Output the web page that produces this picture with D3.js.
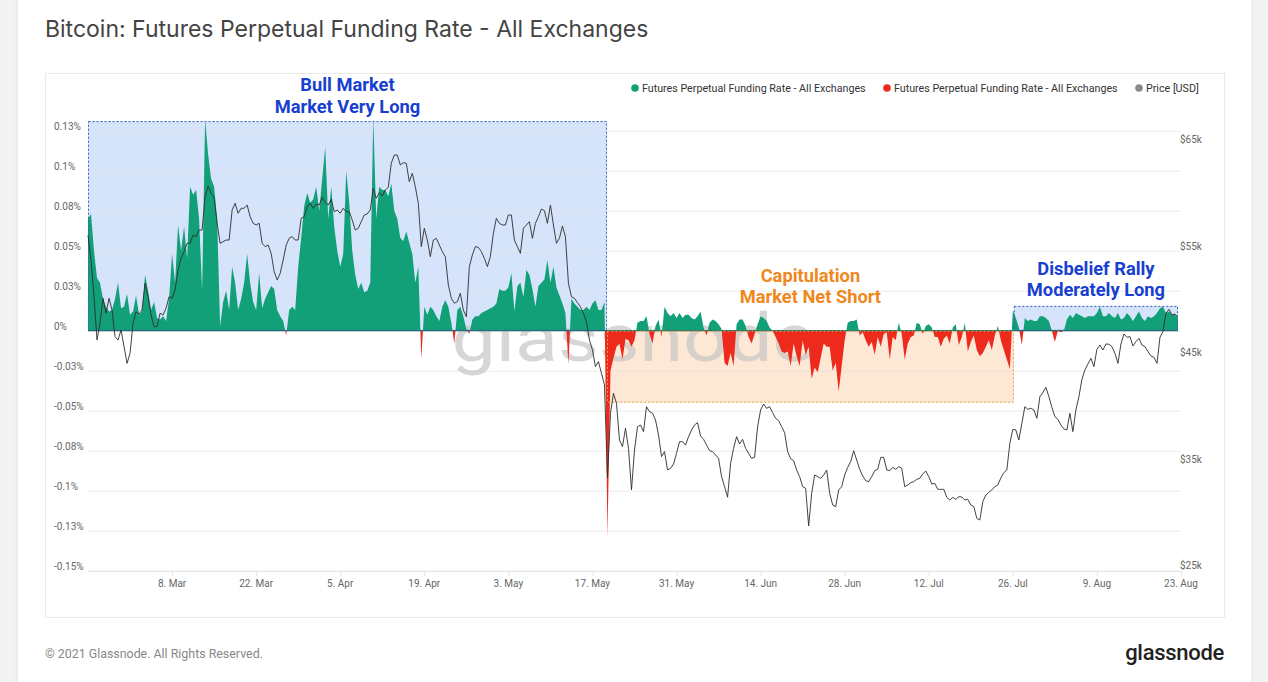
<!DOCTYPE html>
<html>
<head>
<meta charset="utf-8">
<script src="https://cdn.jsdelivr.net/npm/d3@7"></script>
<style>
  html, body { margin: 0; padding: 0; background: #f3f3f3; }
  svg { display: block; font-family: Roboto, "Open Sans", sans-serif; }
</style>
</head>
<body>
<svg id="chart"></svg>
<script>
// Funding rate in %, one value every 12h starting 22 Feb 2021 (one week per row)
const fundingRate = [
  0.07, 0.073, 0.05, 0.033, 0.03, 0.02, 0.015, 0.012, 0.013, 0.02, 0.03, 0.014, 0.015, 0.023,
  0.01, 0.012, 0.022, 0.01, 0.012, 0.035, 0.025, 0.013, 0.018, 0.008, 0.007, 0.009, 0.006, 0.02,
  0.048, 0.03, 0.066, 0.05, 0.065, 0.045, 0.09, 0.085, 0.088, 0.07, 0.025, 0.132, 0.11, 0.095,
  0.09, 0.07, 0.003, 0.018, 0.025, 0.013, 0.04, 0.03, 0.013, 0.02, 0.03, 0.048, 0.03, 0.018,
  0.013, 0.036, 0.014, 0.02, 0.024, 0.028, 0.026, 0.013, 0.009, 0.006, -0.003, 0.013, 0.015, 0.013,
  0.04, 0.058, 0.078, 0.086, 0.08, 0.082, 0.09, 0.075, 0.095, 0.115, 0.07, 0.09, 0.065, 0.05,
  0.04, 0.048, 0.1, 0.08, 0.05, 0.035, 0.026, 0.03, 0.024, 0.025, 0.03, 0.133, 0.07, 0.09,
  0.088, 0.088, 0.084, 0.092, 0.075, 0.07, 0.058, 0.056, 0.062, 0.055, 0.048, 0.03, 0.04, -0.018,
  0.015, 0.01, 0.015, 0.013, 0.009, 0.006, 0.015, 0.019, 0.015, 0.005, -0.008, 0.013, 0.015, 0.009,
  0.001, -0.002, 0.007, 0.009, 0.009, 0.011, 0.012, 0.013, 0.014, 0.015, 0.017, 0.026, 0.025, 0.025,
  0.027, 0.036, 0.012, 0.028, 0.03, 0.021, 0.038, 0.035, 0.026, 0.015, 0.028, 0.03, 0.032, 0.044,
  0.03, 0.04, 0.027, 0.022, 0.017, 0.011, -0.021, 0.02, 0.017, 0.015, 0.013, 0.013, 0.015, 0.013,
  0.017, 0.019, 0.013, 0.013, 0.018, -0.129, -0.025, -0.017, -0.01, -0.008, -0.018, -0.005, -0.006, -0.01,
  -0.006, 0.005, 0.006, 0.006, 0.009, -0.002, -0.008, 0.003, 0.007, -0.004, 0.015, 0.011, 0.009, 0.011,
  0.008, 0.011, 0.008, 0.01, 0.01, 0.008, 0.007, 0.009, 0.012, 0.002, -0.003, 0.005, 0.007, 0.006,
  0.004, 0.001, -0.02, -0.022, -0.014, -0.022, 0.004, 0.007, 0.007, 0.003, -0.004, -0.008, -0.002, 0.004,
  0.009, 0.008, 0.006, 0.002, 0.0, -0.004, -0.008, -0.013, -0.014, -0.013, -0.022, -0.008, -0.016, -0.022,
  -0.006, -0.015, -0.01, -0.03, -0.023, -0.026, -0.017, -0.008, -0.01, -0.01, -0.025, -0.02, -0.038, -0.022,
  -0.006, 0.005, 0.006, 0.006, 0.007, -0.003, -0.001, -0.006, -0.01, -0.007, -0.015, -0.004, -0.01, -0.002,
  -0.001, -0.018, -0.004, -0.006, 0.005, -0.002, -0.018, -0.008, -0.004, -0.003, 0.005, 0.004, -0.002, 0.003,
  0.004, 0.002, -0.004, -0.004, -0.01, -0.005, -0.003, -0.008, 0.002, 0.004, -0.009, -0.004, 0.005, -0.013,
  -0.007, -0.003, -0.012, -0.016, -0.014, -0.01, -0.006, -0.012, -0.003, 0.003, -0.006, -0.012, -0.018, -0.024,
  0.013, 0.008, 0.002, -0.009, 0.008, 0.006, 0.007, 0.006, 0.006, 0.009, 0.009, 0.008, 0.006, 0.0,
  -0.007, 0.0, -0.001, 0.0, 0.007, 0.01, 0.008, 0.011, 0.01, 0.009, 0.008, 0.009, 0.009, 0.009,
  0.011, 0.015, 0.009, 0.009, 0.011, 0.009, 0.008, 0.011, 0.007, 0.008, 0.011, 0.009, 0.006, 0.009,
  0.012, 0.008, 0.006, 0.009, 0.008, 0.009, 0.011, 0.014, 0.015, 0.011, 0.012, 0.01, 0.01, 0.008
];

// BTC price in USD, same 12h sampling
const price = [
  56500, 54170, 50730, 46660, 48230, 50580, 49170, 50580, 49480, 46980, 46660, 47600, 46040, 44470,
  45410, 48230, 49320, 49100, 49480, 51980, 50730, 49010, 47920, 47920, 49170, 49010, 49640, 50730,
  50580, 51360, 53240, 54330, 54960, 55740, 55740, 56520, 56370, 56990, 56990, 60120, 61120, 60430,
  60060, 57620, 55740, 55900, 56050, 56050, 58870, 59500, 58560, 59030, 59030, 59340, 58240, 57620,
  57460, 57620, 55740, 55430, 55580, 54800, 53080, 52300, 52920, 54170, 55580, 56210, 56370, 56050,
  56050, 58090, 58240, 59180, 59500, 59030, 59430, 59340, 60060, 59560, 59340, 59870, 58710, 58870,
  58560, 59030, 58710, 58710, 57930, 56990, 57150, 57770, 58400, 58500, 58870, 60900, 59970, 60500,
  60190, 60750, 61000, 63250, 64030, 64030, 63100, 63310, 63250, 61530, 62310, 61060, 59500, 55430,
  57150, 56050, 54490, 56050, 56210, 55580, 54960, 54490, 51830, 50580, 50110, 50260, 51050, 49480,
  48850, 53550, 54650, 55430, 55360, 54960, 54330, 53550, 54490, 56680, 58090, 57620, 57460, 57460,
  58400, 58400, 56050, 55430, 54800, 57150, 57460, 57770, 56210, 57620, 58240, 58960, 58810, 57620,
  59340, 57460, 55740, 56210, 57370, 56370, 51980, 50730, 50580, 50170, 49790, 49170, 48380, 46660,
  45720, 44160, 44630, 43530, 42440, 33700, 39780, 41655, 40715, 37270, 36650, 38370, 36490, 32580,
  36330, 38525, 38680, 38055, 40400, 39930, 39780, 39150, 37740, 35710, 36180, 34455, 34610, 35020,
  36020, 37115, 37115, 36800, 37585, 38210, 38680, 38900, 37650, 37335, 36800, 36270, 36180, 35865,
  35550, 33830, 32890, 31900, 35080, 36490, 37585, 36900, 37335, 36490, 36020, 35550, 35645, 38525,
  40090, 40650, 40245, 40400, 39840, 39310, 39090, 38525, 37960, 36180, 35520, 35330, 34455, 33830,
  32890, 32735, 29200, 32265, 33985, 33830, 33670, 33985, 34455, 32265, 31170, 31010, 32580, 32890,
  33985, 34705, 35240, 36270, 35395, 34520, 33890, 33455, 33360, 33830, 34390, 34520, 35645, 35645,
  34455, 34390, 34705, 34520, 34770, 34615, 32890, 33050, 33270, 33360, 33580, 33675, 34080, 34365,
  33830, 33140, 33205, 32640, 32640, 32640, 31890, 31640, 31890, 31700, 31950, 31920, 31640, 31700,
  31170, 31015, 29920, 29760, 31480, 32110, 32360, 32580, 32890, 33050, 33705, 34210, 34455, 36960,
  38275, 38210, 37275, 38840, 40400, 40150, 40250, 40090, 39310, 41340, 41720, 42220, 41340, 40340,
  39465, 39215, 38680, 38310, 38210, 39780, 38055, 40090, 41340, 42970, 43850, 44410, 44940, 44160,
  45790, 46190, 45725, 46290, 46260, 46040, 45410, 44470, 46290, 47230, 46915, 46980, 46100, 46510,
  46820, 46190, 46040, 45570, 45160, 45040, 44470, 46915, 47450, 49170, 49540, 49010, 49105, 48820
];

const seriesStart = Date.UTC(2021, 1, 22);
const stepMs = 12 * 3600 * 1000;
const times = fundingRate.map((d, i) => new Date(seriesStart + i * stepMs));

// Axis ticks
const rateTicks = [0.125, 0.1, 0.075, 0.05, 0.025, 0, -0.025, -0.05, -0.075, -0.1, -0.125, -0.15];
const rateTickLabels = ["0.13%", "0.1%", "0.08%", "0.05%", "0.03%", "0%", "-0.03%", "-0.05%", "-0.08%", "-0.1%", "-0.13%", "-0.15%"];
const priceTicks = [65000, 55000, 45000, 35000, 25000];
const priceTickLabels = ["$65k", "$55k", "$45k", "$35k", "$25k"];
const dateTicks = ["2021-03-08", "2021-03-22", "2021-04-05", "2021-04-19", "2021-05-03", "2021-05-17",
  "2021-05-31", "2021-06-14", "2021-06-28", "2021-07-12", "2021-07-26", "2021-08-09", "2021-08-23"];

// Highlighted regimes
const bandNames = ["bull", "capitulation", "disbelief"];
const bandStart = ["2021-02-22T00:00Z", "2021-05-19T10:00Z", "2021-07-26T04:00Z"];
const bandEnd = ["2021-05-19T10:00Z", "2021-07-26T04:00Z", "2021-08-22T12:00Z"];
const bandFrom = [0, -0.045, 0];
const bandTo = [0.131, 0, 0.0155];
const bandLabels = [["Bull Market", "Market Very Long"], ["Capitulation", "Market Net Short"], ["Disbelief Rally", "Moderately Long"]];

const legendLabels = ["Futures Perpetual Funding Rate - All Exchanges", "Futures Perpetual Funding Rate - All Exchanges", "Price [USD]"];

const width = 1268;
const height = 682;
const green = "#12a078";
const red = "#ee2a1d";
const blueText = "#1740d0";
const orangeText = "#f0881c";

const svg = d3.select("#chart").attr("width", width).attr("height", height);

const x = d3.scaleUtc()
    .domain([new Date(seriesStart), new Date("2021-08-23T00:00Z")])
    .range([88, 1181]);
const yRate = d3.scaleLinear().domain([-0.15, 0.125]).range([570.7, 130.7]);
const yPrice = d3.scaleLinear().domain([25000, 65000]).range([570.7, 144.7]);

// page card
const defs = svg.append("defs");
const shadow = defs.append("filter").attr("id", "shadow").attr("x", "-5%").attr("width", "110%");
shadow.append("feDropShadow").attr("dx", 0).attr("dy", 0).attr("stdDeviation", 3)
    .attr("flood-color", "#000").attr("flood-opacity", 0.06);
svg.append("rect").attr("x", 18).attr("y", -10).attr("width", 1233).attr("height", height + 20)
    .attr("fill", "#fff").attr("filter", "url(#shadow)");

// chart frame
svg.append("rect").attr("x", 45.5).attr("y", 73.5).attr("width", 1179).attr("height", 544)
    .attr("fill", "#fff").attr("stroke", "#e9e9e9");

svg.append("text").attr("x", 45).attr("y", 36.5)
    .attr("font-family", "Inter, Roboto, sans-serif")
    .attr("font-size", 23).attr("fill", "#444")
    .text("Bitcoin: Futures Perpetual Funding Rate - All Exchanges");

// band fills
const bands = bandNames.map((name, i) => ({
    name, x0: x(new Date(bandStart[i])), x1: x(new Date(bandEnd[i])),
    y0: yRate(bandTo[i]), y1: yRate(bandFrom[i]), lines: bandLabels[i]
}));
const bandFill = { bull: "#d6e4fb", capitulation: "#fde7d5", disbelief: "#d6e4fb" };
const bandStroke = { bull: "#3563b8", capitulation: "#f0a04e", disbelief: "#3563b8" };

svg.append("g").selectAll("rect").data(bands).join("rect")
    .attr("x", d => d.x0).attr("y", d => d.y0)
    .attr("width", d => d.x1 - d.x0).attr("height", d => d.y1 - d.y0)
    .attr("fill", d => bandFill[d.name]);

// grid
svg.append("g").selectAll("line").data(rateTicks).join("line")
    .attr("x1", 88).attr("x2", 1181)
    .attr("y1", d => yRate(d) + 0.5).attr("y2", d => yRate(d) + 0.5)
    .attr("stroke", "#e6e6e6").attr("stroke-opacity", 0.75);

// watermark
svg.append("text").attr("x", 633).attr("y", 361).attr("text-anchor", "middle")
    .attr("font-size", 66).attr("font-weight", 400)
    .attr("textLength", 363).attr("lengthAdjust", "spacingAndGlyphs")
    .attr("fill", "#c4c4c4").attr("fill-opacity", 0.7)
    .text("glassnode");

// funding area, green above zero and red below
defs.append("clipPath").attr("id", "clipPos").append("rect")
    .attr("x", 0).attr("y", 0).attr("width", width).attr("height", yRate(0));
defs.append("clipPath").attr("id", "clipNeg").append("rect")
    .attr("x", 0).attr("y", yRate(0)).attr("width", width).attr("height", height);

const area = d3.area()
    .x((d, i) => x(times[i]))
    .y0(yRate(0))
    .y1(d => yRate(d));

svg.append("path").datum(fundingRate).attr("d", area)
    .attr("fill", green).attr("clip-path", "url(#clipPos)");
svg.append("path").datum(fundingRate).attr("d", area)
    .attr("fill", red).attr("clip-path", "url(#clipNeg)");

// zero line
svg.append("line")
    .attr("x1", x(times[0])).attr("x2", x(times[times.length - 1]))
    .attr("y1", yRate(0)).attr("y2", yRate(0))
    .attr("stroke", "#23735f").attr("stroke-width", 1.3);

// band outlines
svg.append("g").selectAll("rect").data(bands).join("rect")
    .attr("x", d => d.x0 + 0.5).attr("y", d => d.y0 + 0.5)
    .attr("width", d => d.x1 - d.x0 - 1).attr("height", d => d.y1 - d.y0 - 1)
    .attr("fill", "none").attr("stroke", d => bandStroke[d.name])
    .attr("stroke-width", 1).attr("stroke-dasharray", "2,2");

// price line
const priceLine = d3.line()
    .x((d, i) => x(times[i]))
    .y(d => yPrice(d));
svg.append("path").datum(price).attr("d", priceLine)
    .attr("fill", "none").attr("stroke", "#2e2e2e").attr("stroke-width", 1)
    .attr("stroke-opacity", 0.9).attr("stroke-linejoin", "round");

// band labels
const labelOffset = { bull: 9, capitulation: 28, disbelief: 10 };
bands.forEach(b => {
    const t = svg.append("text")
        .attr("x", (b.x0 + b.x1) / 2)
        .attr("y", b.y0 - labelOffset[b.name] - 21)
        .attr("text-anchor", "middle").attr("font-size", 18.3).attr("font-weight", 700)
        .attr("fill", b.name === "capitulation" ? orangeText : blueText);
    b.lines.forEach((line, j) => {
        t.append("tspan").attr("x", (b.x0 + b.x1) / 2).attr("dy", j === 0 ? 0 : 21.5).text(line);
    });
});

// left axis labels
svg.append("g").selectAll("text").data(rateTicks).join("text")
    .attr("x", 54).attr("y", d => yRate(d) - 1)
    .attr("font-size", 10).attr("fill", "#666")
    .text((d, i) => rateTickLabels[i]);

// right axis labels
svg.append("g").selectAll("text").data(priceTicks).join("text")
    .attr("x", 1180).attr("y", d => yPrice(d) - 1.5)
    .attr("font-size", 10).attr("fill", "#666")
    .text((d, i) => priceTickLabels[i]);

// x axis
svg.append("line").attr("x1", 88).attr("x2", 1181).attr("y1", 571.5).attr("y2", 571.5)
    .attr("stroke", "#e3e3e3");
const xDates = dateTicks.map(d => new Date(d + "T00:00Z"));
const fmt = d3.utcFormat("%-d. %b");
svg.append("g").selectAll("line").data(xDates).join("line")
    .attr("x1", d => x(d) + 0.5).attr("x2", d => x(d) + 0.5)
    .attr("y1", 571).attr("y2", 576).attr("stroke", "#e3e3e3");
svg.append("g").selectAll("text").data(xDates).join("text")
    .attr("x", d => x(d)).attr("y", 587)
    .attr("text-anchor", "middle").attr("font-size", 10).attr("fill", "#666")
    .text(d => fmt(d));

// legend
const legendColors = [green, red, "#8a8a8a"];
const legendX = [635, 887, 1139];
const legend = svg.append("g").selectAll("g").data(legendLabels).join("g")
    .attr("transform", (d, i) => `translate(${legendX[i]},88)`);
legend.append("circle").attr("r", 3.8).attr("fill", (d, i) => legendColors[i]);
legend.append("text").attr("x", 7).attr("y", 3.7)
    .attr("font-size", 10.7).attr("fill", "#333").text(d => d);

// footer
svg.append("text").attr("x", 45).attr("y", 658)
    .attr("font-size", 12.4).attr("fill", "#888")
    .text("\u00a9 2021 Glassnode. All Rights Reserved.");
svg.append("text").attr("x", 1224).attr("y", 660).attr("text-anchor", "end")
    .attr("font-size", 22).attr("font-weight", 500).attr("fill", "#222")
    .attr("letter-spacing", -0.3)
    .text("glassnode");
</script>
</body>
</html>
